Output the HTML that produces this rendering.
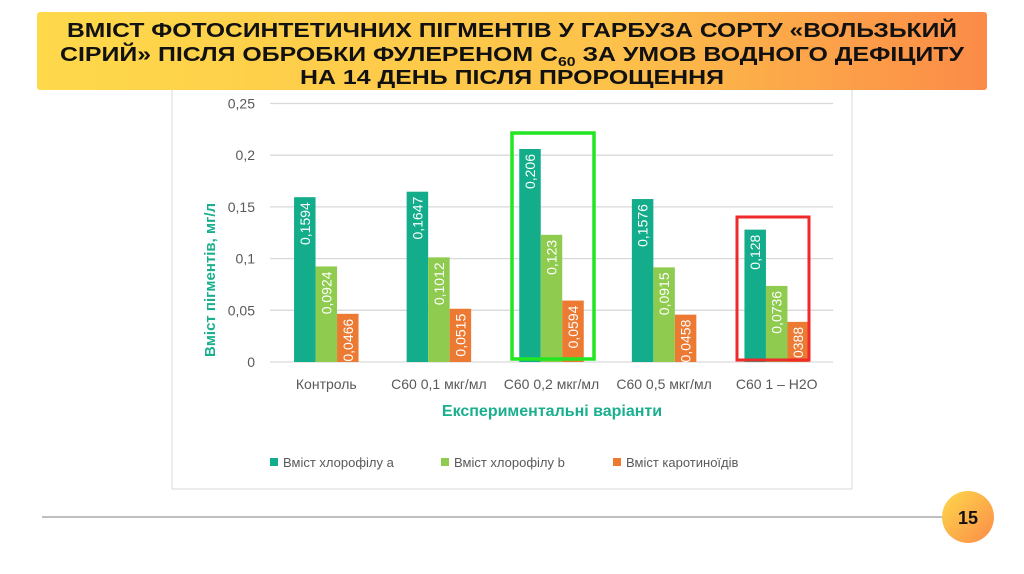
<!DOCTYPE html>
<html><head><meta charset="utf-8"><style>
html,body{margin:0;padding:0;background:#fff;width:1024px;height:574px;overflow:hidden;font-family:"Liberation Sans","DejaVu Sans",sans-serif}
</style></head><body>
<svg width="1024" height="574" viewBox="0 0 1024 574" xmlns="http://www.w3.org/2000/svg">
<defs>
<linearGradient id="bg" x1="0" x2="1" y1="0" y2="0"><stop offset="0" stop-color="#fed94a"/><stop offset="0.6" stop-color="#fdc24a"/><stop offset="1" stop-color="#fb8b48"/></linearGradient>
<linearGradient id="cg" x1="0" x2="1" y1="0" y2="1"><stop offset="0" stop-color="#fed94a"/><stop offset="1" stop-color="#fb8b48"/></linearGradient>
</defs>
<rect x="172" y="80" width="680" height="409" fill="#fff" stroke="#d9d9d9"/>
<g id="grid"></g>
<g id="bars"></g>
<rect x="512" y="133" width="82" height="226" fill="none" stroke="#22e622" stroke-width="3.5"/>
<rect x="737" y="217" width="72" height="143" fill="none" stroke="#ee2a2a" stroke-width="3"/>
<text x="0" y="0" transform="translate(215,280) rotate(-90)" text-anchor="middle" font-size="15" font-weight="bold" fill="#1aaf8e">Вміст пігментів, мг/л</text>
<text x="552" y="416" text-anchor="middle" font-size="16" font-weight="bold" fill="#1aaf8e">Експериментальні варіанти</text>
<g>
<rect x="270" y="458" width="8" height="8" fill="#13ad8b"/>
<text x="283" y="467" font-size="13" fill="#595959">Вміст хлорофілу а</text>
<rect x="441" y="458" width="8" height="8" fill="#8fcb4e"/>
<text x="454" y="467" font-size="13" fill="#595959">Вміст хлорофілу b</text>
<rect x="613" y="458" width="8" height="8" fill="#ec7a33"/>
<text x="626" y="467" font-size="13" fill="#595959">Вміст каротиноїдів</text>
</g>
<rect x="37" y="12" width="950" height="78" rx="3" fill="url(#bg)"/>
<g font-size="20.5" font-weight="bold" fill="#111" text-anchor="middle">
<text x="512" y="37" textLength="890" lengthAdjust="spacingAndGlyphs">ВМІСТ ФОТОСИНТЕТИЧНИХ ПІГМЕНТІВ У ГАРБУЗА СОРТУ «ВОЛЬЗЬКИЙ</text>
<text x="512" y="61" textLength="904" lengthAdjust="spacingAndGlyphs">СІРИЙ» ПІСЛЯ ОБРОБКИ ФУЛЕРЕНОМ С<tspan font-size="13" dy="5">60</tspan><tspan dy="-5"> ЗА УМОВ ВОДНОГО ДЕФІЦИТУ</tspan></text>
<text x="512" y="84" textLength="424" lengthAdjust="spacingAndGlyphs">НА 14 ДЕНЬ ПІСЛЯ ПРОРОЩЕННЯ</text>
</g>
<line x1="42" y1="517" x2="945" y2="517" stroke="#aaa" stroke-width="1.5"/>
<circle cx="968" cy="517" r="26" fill="url(#cg)"/>
<text x="968" y="524" text-anchor="middle" font-size="18" font-weight="bold" fill="#111">15</text>
</svg>
<script>
const categories = ["Контроль","С60 0,1 мкг/мл","С60 0,2 мкг/мл","С60 0,5 мкг/мл","С60 1 – H2O"];
const chlA = [0.1594,0.1647,0.206,0.1576,0.128];
const chlB = [0.0924,0.1012,0.123,0.0915,0.0736];
const carot = [0.0466,0.0515,0.0594,0.0458,0.0388];
const ticks = [0,0.05,0.1,0.15,0.2,0.25];
const tickLabels = ["0","0,05","0,1","0,15","0,2","0,25"];

const NS="http://www.w3.org/2000/svg";
const x0=270,x1=833,y0=362,yTop=103.5,vmax=0.25;
const yS=v=>y0-(v/vmax)*(y0-yTop);
const bw=(x1-x0)/categories.length;
const xC=i=>x0+bw*(i+0.5);
function mk(tag,attrs,parent){const e=document.createElementNS(NS,tag);for(const k in attrs)e.setAttribute(k,attrs[k]);parent.appendChild(e);return e;}
const grid=document.getElementById('grid'),bars=document.getElementById('bars');
ticks.forEach((t,i)=>{
  const l=mk('line',{x1:x0,x2:x1,y1:yS(t),y2:yS(t),stroke:'#d9d9d9','stroke-width':1.3},grid);
  
  
  const tx=mk('text',{x:255,y:yS(t)+5,'text-anchor':'end','font-size':14,fill:'#595959'},grid);
  tx.textContent=tickLabels[i];
  
  
});
const series=[[chlA,'#13ad8b','chl-a'],[chlB,'#8fcb4e','chl-b'],[carot,'#ec7a33','carot']];
const barW=21.5;
categories.forEach((c,i)=>{
  series.forEach((s,j)=>{
    const v=s[0][i];
    const bx=xC(i)-barW*1.5+j*barW, by=yS(v);
    const r=mk('rect',{x:bx,y:by,width:barW,height:y0-by,fill:s[1]},bars);
    
    
    const lab=String(v).replace('.',',');
    const tx=mk('text',{transform:`translate(${bx+barW/2+5},${by+5}) rotate(-90)`,'text-anchor':'end','font-size':14,fill:'#fff'},bars);
    tx.textContent=lab;
    
    
  });
  const cl=mk('text',{x:xC(i),y:389,'text-anchor':'middle','font-size':14,fill:'#595959'},bars);
  cl.textContent=c;
  
  
});
</script>
</body></html>
